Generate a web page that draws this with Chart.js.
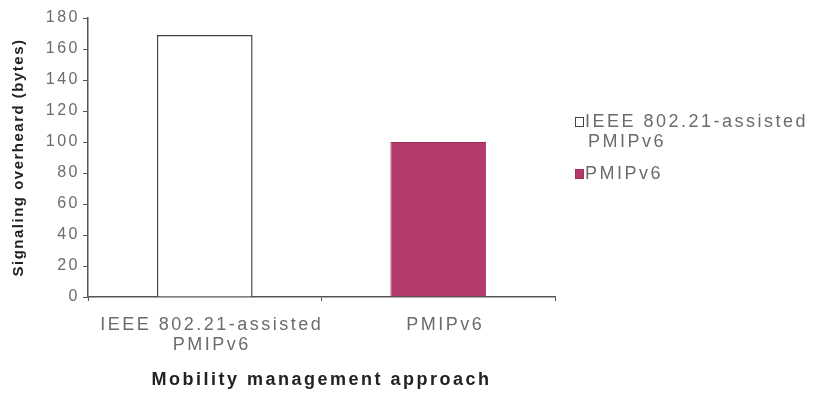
<!DOCTYPE html>
<html>
<head>
<meta charset="utf-8">
<script src="https://cdn.jsdelivr.net/npm/chart.js@4/dist/chart.umd.min.js"></script>
<style>
  html, body { margin: 0; padding: 0; background: #fff; }
  #wrap { width: 820px; height: 395px; position: relative; }
</style>
</head>
<body>
<div id="wrap"><canvas id="c" width="820" height="395"></canvas></div>
<script>
// Mobility management approaches compared on the x axis
const categories = [['IEEE 802.21-assisted', 'PMIPv6'], 'PMIPv6'];
// Legend names of the two series
const seriesNames = [['IEEE 802.21-assisted', 'PMIPv6'], ['PMIPv6']];
// Signaling overhead in bytes, one bar per approach
const ieeeAssistedValues = [169, null];
const pmipValues = [null, 100];
// Y axis range and step
const yMax = 180;
const yStep = 20;

const TEXT = '#6b6b6b';
const AXIS = '#555555';
const FONT = "'Liberation Sans', Arial, sans-serif";
const WIDE = '2.5px';
const NARROW = '1.5px';

// Spaced lettering for canvas text; the y title is a little tighter
const spacing = {
  id: 'spacing',
  beforeLayout(chart) { chart.ctx.letterSpacing = WIDE; },
  afterLayout(chart) {
    const y = chart.scales.y;
    if (!y._tightTitle) {
      const orig = y.drawTitle.bind(y);
      y.drawTitle = function () {
        const ctx = this.ctx;
        const prev = ctx.letterSpacing;
        ctx.letterSpacing = NARROW;
        orig();
        ctx.letterSpacing = prev;
      };
      y._tightTitle = true;
    }
  },
  beforeDraw(chart) { chart.ctx.letterSpacing = WIDE; }
};

// Legend at the right, with the multi-line series names
const sideLegend = {
  id: 'sideLegend',
  afterDraw(chart) {
    const ctx = chart.ctx;
    ctx.save();
    ctx.letterSpacing = WIDE;
    ctx.font = '18px ' + FONT;
    ctx.textBaseline = 'middle';
    const x = chart.chartArea.right + 20;
    let y = 122;
    chart.data.datasets.forEach((ds, i) => {
      const lines = seriesNames[i];
      ctx.fillStyle = ds.backgroundColor;
      ctx.strokeStyle = ds.borderColor;
      ctx.lineWidth = 1;
      ctx.fillRect(x + 0.5, y - 4.5, 8, 9);
      ctx.strokeRect(x + 0.5, y - 4.5, 8, 9);
      ctx.fillStyle = TEXT;
      lines.forEach((t, j) => {
        ctx.fillText(t, x + (j ? 13 : 10), y + j * 20);
      });
      y += (lines.length - 1) * 20 + 32;
    });
    ctx.restore();
  }
};

new Chart(document.getElementById('c'), {
  type: 'bar',
  data: {
    labels: categories,
    datasets: [
      {
        label: 'IEEE 802.21-assisted PMIPv6',
        data: ieeeAssistedValues,
        backgroundColor: '#ffffff',
        borderColor: '#444444',
        borderWidth: 1.5
      },
      {
        label: 'PMIPv6',
        data: pmipValues,
        backgroundColor: '#b43a6c',
        borderColor: '#9e2f5c',
        borderWidth: 1
      }
    ]
  },
  options: {
    responsive: false,
    animation: false,
    devicePixelRatio: 1,
    grouped: false,
    barPercentage: 0.41,
    categoryPercentage: 1,
    layout: { padding: { top: 18, right: 265, bottom: 4, left: 0 } },
    plugins: {
      legend: { display: false },
      tooltip: { enabled: false }
    },
    scales: {
      x: {
        grid: { drawOnChartArea: false, drawTicks: true, tickLength: 4, color: AXIS },
        border: { display: true, color: AXIS, width: 1.5 },
        ticks: { color: TEXT, font: { family: FONT, size: 18, lineHeight: 1.1 }, padding: 14, maxRotation: 0, labelOffset: 7 },
        title: {
          display: true,
          text: 'Mobility management approach',
          color: '#222',
          font: { family: FONT, size: 18, weight: 'bold' },
          padding: { top: 8, bottom: 0 }
        },
        afterFit(s) { s.height = 94; }
      },
      y: {
        min: 0,
        max: yMax,
        grid: { drawOnChartArea: false, drawTicks: true, tickLength: 5, color: AXIS },
        border: { display: true, color: AXIS, width: 1.5 },
        ticks: { stepSize: yStep, color: TEXT, font: { family: FONT, size: 16 }, padding: 3 },
        title: {
          display: true,
          text: 'Signaling overheard (bytes)',
          color: '#222',
          font: { family: FONT, size: 15, weight: 'bold' },
          padding: { top: 10, bottom: 4 }
        },
        afterFit(s) { s.width = 88; }
      }
    }
  },
  plugins: [spacing, sideLegend]
});
</script>
</body>
</html>
